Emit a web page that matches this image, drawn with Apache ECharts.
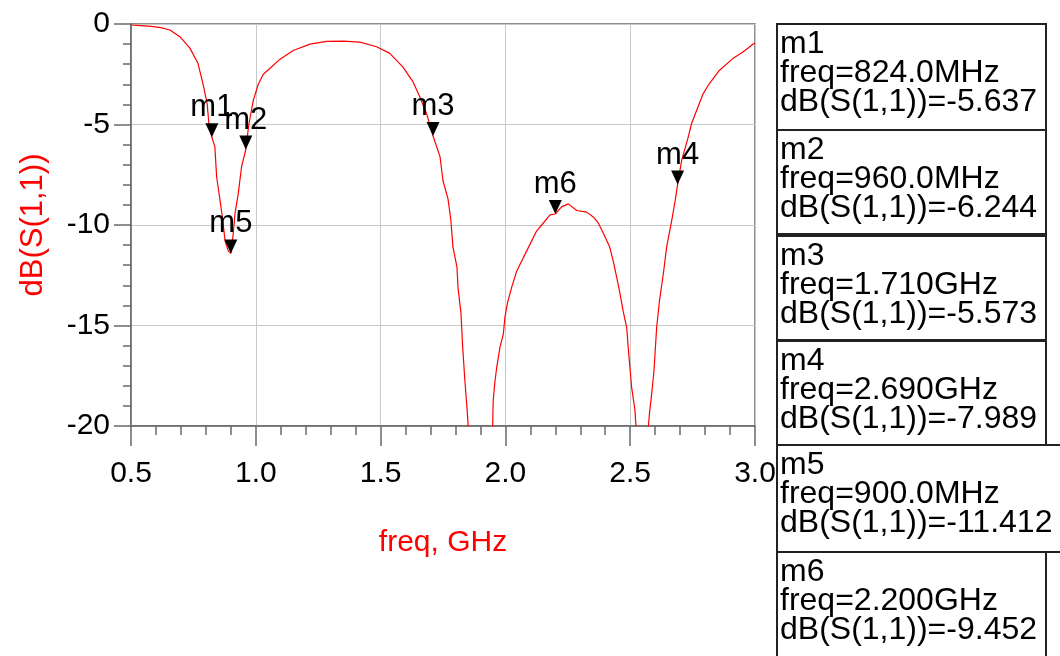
<!DOCTYPE html>
<html>
<head>
<meta charset="utf-8">
<script src="https://cdn.jsdelivr.net/npm/echarts@6/dist/echarts.min.js"></script>
<style>
  html, body { margin: 0; padding: 0; background: #fff; }
  #chart { width: 1060px; height: 656px; }
</style>
</head>
<body>
<div id="chart"></div>
<script>
// S11 trace (GHz / dB)
var freqGHz = [
  0.500, 0.540, 0.580, 0.620, 0.656, 0.696, 0.736, 0.768, 0.788, 0.805,
  0.812, 0.824, 0.836, 0.843, 0.857, 0.866, 0.877, 0.890, 0.900, 0.909,
  0.917, 0.929, 0.943, 0.960, 0.972, 0.990, 1.010, 1.030, 1.057, 1.097,
  1.150, 1.217, 1.284, 1.350, 1.417, 1.484, 1.537, 1.589, 1.630, 1.657,
  1.684, 1.710, 1.738, 1.750, 1.770, 1.781, 1.790, 1.806, 1.810, 1.822,
  1.829, 1.838, 1.846, 1.851, 1.900, 1.949, 1.951, 1.958, 1.965, 1.978,
  1.992, 1.998, 2.008, 2.025, 2.045, 2.085, 2.125, 2.152, 2.179, 2.200,
  2.225, 2.252, 2.286, 2.326, 2.352, 2.372, 2.392, 2.418, 2.432, 2.446,
  2.459, 2.472, 2.486, 2.492, 2.506, 2.519, 2.523, 2.548, 2.573, 2.577,
  2.586, 2.595, 2.606, 2.617, 2.633, 2.646, 2.666, 2.680, 2.690, 2.706,
  2.733, 2.746, 2.766, 2.793, 2.818, 2.858, 2.913, 2.953, 2.993, 3.000
];
var s11dB = [
  -0.05, -0.08, -0.12, -0.18, -0.30, -0.63, -1.20, -1.95, -2.95, -3.95,
  -4.95, -5.637, -6.10, -7.60, -8.80, -9.60, -10.80, -11.30, -11.412, -10.50,
  -9.40, -8.50, -7.10, -6.244, -5.00, -3.80, -3.00, -2.50, -2.20, -1.75,
  -1.32, -1.00, -0.86, -0.85, -0.90, -1.13, -1.46, -2.13, -2.88, -3.62,
  -4.45, -5.573, -6.60, -7.80, -8.70, -9.70, -11.10, -12.10, -13.10, -14.40,
  -16.10, -17.80, -19.10, -20.00, -30.00, -20.00, -18.75, -17.80, -17.10, -16.10,
  -15.40, -14.60, -13.90, -13.10, -12.30, -11.30, -10.30, -9.90, -9.50, -9.452,
  -9.10, -8.95, -9.28, -9.36, -9.60, -9.90, -10.40, -11.10, -11.80, -12.60,
  -13.40, -14.30, -15.10, -16.10, -18.10, -19.20, -20.00, -28.00, -20.00, -19.40,
  -18.40, -17.30, -15.10, -13.80, -12.40, -11.10, -9.80, -8.80, -7.989, -6.80,
  -5.60, -4.95, -4.30, -3.45, -2.95, -2.30, -1.70, -1.38, -1.00, -0.95
];

// markers
var markerNames = ['m1', 'm2', 'm3', 'm4', 'm5', 'm6'];
var markerFreqGHz = [0.824, 0.960, 1.710, 2.690, 0.900, 2.200];
var markerDB = [-5.637, -6.244, -5.573, -7.989, -11.412, -9.452];

var FONT = '"Liberation Sans", Arial, sans-serif';
var AXIS_GRAY = '#6a6a6a';

function freqText(f) {
  if (f < 1) return 'freq=' + (f * 1000).toFixed(1) + 'MHz';
  return 'freq=' + f.toFixed(3) + 'GHz';
}

var lineData = [];
for (var i = 0; i < freqGHz.length; i++) {
  lineData.push([freqGHz[i], s11dB[i]]);
}
var markerData = [];
for (var j = 0; j < markerNames.length; j++) {
  markerData.push({ name: markerNames[j], value: [markerFreqGHz[j], markerDB[j]] });
}

// marker readout boxes on the right
var boxTop = [24, 130, 236, 341, 445, 552];
var boxH = [106, 104, 104, 104, 107, 110];
var boxW = [269, 269, 269, 269, 300, 269];
var graphics = [];
for (var k = 0; k < markerNames.length; k++) {
  graphics.push({
    type: 'rect', z: 100,
    shape: { x: 777, y: boxTop[k], width: boxW[k], height: boxH[k] },
    style: { fill: '#fff', stroke: '#222', lineWidth: 2 }
  });
  graphics.push({
    type: 'text', z: 101,
    style: {
      x: 780, y: boxTop[k] + 6,
      text: markerNames[k] + '\n' + freqText(markerFreqGHz[k]) + '\ndB(S(1,1))=' + markerDB[k].toFixed(3),
      font: '32px ' + FONT,
      lineHeight: 29,
      fill: '#000',
      verticalAlign: 'top'
    }
  });
}

var chart = echarts.init(document.getElementById('chart'));
chart.setOption({
  animation: false,
  textStyle: { fontFamily: FONT },
  grid: {
    left: 131, right: 305, top: 24, bottom: 230,
    show: true, borderColor: AXIS_GRAY, borderWidth: 1.5,
    backgroundColor: 'transparent'
  },
  xAxis: {
    type: 'value',
    min: 0.5, max: 3.0, interval: 0.5,
    name: 'freq, GHz',
    nameLocation: 'middle',
    nameGap: 102,
    nameTextStyle: { color: '#ff0000', fontSize: 30 },
    axisLine: { show: true, onZero: false, lineStyle: { color: AXIS_GRAY, width: 1.5 } },
    axisTick: { show: true, inside: false, length: 20, lineStyle: { color: AXIS_GRAY, width: 1.5 } },
    minorTick: { show: true, splitNumber: 5, length: 9, lineStyle: { color: AXIS_GRAY, width: 1.5 } },
    axisLabel: {
      color: '#000', fontSize: 30, margin: 33,
      formatter: function (v) { return v.toFixed(1); }
    },
    splitLine: { show: true, lineStyle: { color: '#c8c8c8', width: 1 } }
  },
  yAxis: {
    type: 'value',
    min: -20, max: 0, interval: 5,
    name: 'dB(S(1,1))',
    nameLocation: 'middle',
    nameGap: 82,
    nameTextStyle: { color: '#ff0000', fontSize: 31 },
    axisLine: { show: true, onZero: false, lineStyle: { color: AXIS_GRAY, width: 1.5 } },
    axisTick: { show: true, inside: false, length: 17, lineStyle: { color: AXIS_GRAY, width: 1.5 } },
    minorTick: { show: true, splitNumber: 5, length: 8, lineStyle: { color: AXIS_GRAY, width: 1.5 } },
    axisLabel: { color: '#000', fontSize: 30, margin: 21 },
    splitLine: { show: true, lineStyle: { color: '#c8c8c8', width: 1 } }
  },
  series: [
    {
      type: 'line',
      data: lineData,
      showSymbol: false,
      clip: true,
      lineStyle: { color: '#ff0000', width: 1.2 },
      z: 3
    },
    {
      type: 'scatter',
      data: markerData,
      symbol: 'path://M0,0L12,0L6,13Z',
      symbolSize: [13, 14],
      symbolOffset: [0, -7],
      itemStyle: { color: '#000', opacity: 1 },
      label: {
        show: true, position: 'top', distance: 0,
        formatter: '{b}', color: '#000', fontSize: 31, opacity: 1
      },
      emphasis: { disabled: true },
      z: 4
    }
  ],
  graphic: graphics
});
</script>
</body>
</html>
